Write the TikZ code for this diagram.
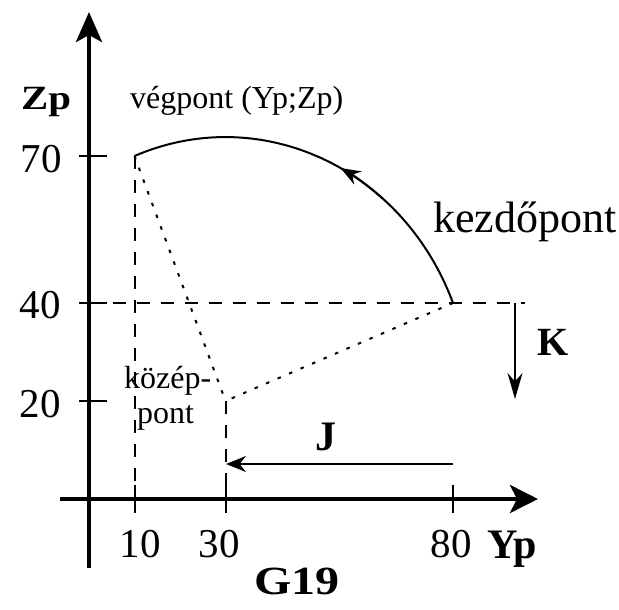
\documentclass[tikz,border=0pt]{standalone}
\usepackage{fontspec}
\setmainfont{Liberation Serif}
\usetikzlibrary{arrows.meta}
\begin{document}
\begin{tikzpicture}[x=1pt,y=-1pt,
  axis/.style={line width=4.5pt},
  tickline/.style={line width=2pt},
  guide/.style={line width=2pt, dash pattern=on 13pt off 11pt},
  dotline/.style={line width=2pt, dash pattern=on 3.5pt off 9pt},
  vec/.style={line width=2pt},
  arcline/.style={line width=2pt},
  num/.style={font=\fontsize{41}{41}\selectfont, inner sep=0pt},
  lbl/.style={font=\fontsize{32}{32}\selectfont, inner sep=0pt},
  blbl/.style={font=\fontsize{42}{42}\selectfont\bfseries, inner sep=0pt}]
\useasboundingbox (0,0) rectangle (619,610);
\fill[white] (0,0) rectangle (619,610);
% named points
\coordinate (xs) at (60,499); \coordinate (xe) at (538,499);
\coordinate (ys) at (89,568); \coordinate (ye) at (89,12);
\coordinate (E) at (134.5,156); \coordinate (S) at (453,303); \coordinate (C) at (225.5,401);
\coordinate (E0) at (134.5,499); \coordinate (C0) at (225.5,499); \coordinate (S0) at (453,499);
\coordinate (T70) at (89,156); \coordinate (T40) at (89,303); \coordinate (T20) at (89,401);
\coordinate (H1) at (525,303);
\coordinate (J0) at (453,464); \coordinate (J1) at (226,464);
\coordinate (K0) at (515,303); \coordinate (K1) at (515,399);
% guides
\draw[guide] (E) -- (E0);
\draw[guide] (C) -- (C0);
\draw[guide] (T40) -- (H1);
\draw[dotline] (E) -- (C);
\draw[dotline] (S) -- (C);
% axes
\draw[axis, -{Stealth[length=28pt,width=28pt,inset=7pt]}] (xs) -- (xe);
\draw[axis, -{Stealth[length=30pt,width=26pt,inset=7pt]}] (ys) -- (ye);
% ticks
\foreach \p in {E0,C0,S0} \draw[tickline] ([yshift=14pt]\p) -- ([yshift=-14pt]\p);
\foreach \p in {T70,T40,T20} \draw[tickline] ([xshift=-10pt]\p) -- ([xshift=18pt]\p);
% arc
\begin{scope}[shift={(89,499)}, x=4.55pt, y=4.9pt]
  \draw[arcline] (S) arc[start angle=21.8, end angle=111.8, radius=53.85];
  \coordinate (A0) at (64.61,61.25);
  \draw[arcline, -{Stealth[length=20pt,width=15pt]}] (A0) arc[start angle=50, end angle=62, radius=53.85];
\end{scope}
% J and K vectors
\draw[vec, -{Stealth[length=20pt,width=16pt]}] (J0) -- (J1);
\draw[vec, -{Stealth[length=26pt,width=15pt]}] (K0) -- (K1);
% labels
\node[num, anchor=base east] (l70) at (62,172) {70};
\node[num, anchor=base east] (l40) at (61,318) {40};
\node[num, anchor=base east] (l20) at (61,417) {20};
\node[num, anchor=base] (l10) at (140,557) {10};
\node[num, anchor=base] (l30) at (219,557) {30};
\node[num, anchor=base] (l80) at (451,557) {80};
\node[blbl, font=\fontsize{34}{34}\selectfont\bfseries, xscale=1.2, anchor=base west] (zp) at (21,110) {Zp};
\node[blbl, anchor=base west] (yp) at (487,558) {Yp};
\node[blbl, font=\fontsize{40}{40}\selectfont\bfseries, anchor=base west] (k) at (537,355) {K};
\node[blbl, anchor=base west] (j) at (315,450) {J};
\node[blbl, font=\fontsize{40}{40}\selectfont\bfseries, xscale=1.2, anchor=base west] (g) at (254,594) {G19};
\node[lbl, anchor=base west] (veg) at (130,108) {végpont (Yp;Zp)};
\node[lbl, font=\fontsize{44}{44}\selectfont, anchor=base west] (kezd) at (433,232) {kezdőpont};
\node[lbl, anchor=base west] (koz1) at (124,388) {közép-};
\node[lbl, anchor=base west] (koz2) at (137,423) {pont};
\end{tikzpicture}
\end{document}
